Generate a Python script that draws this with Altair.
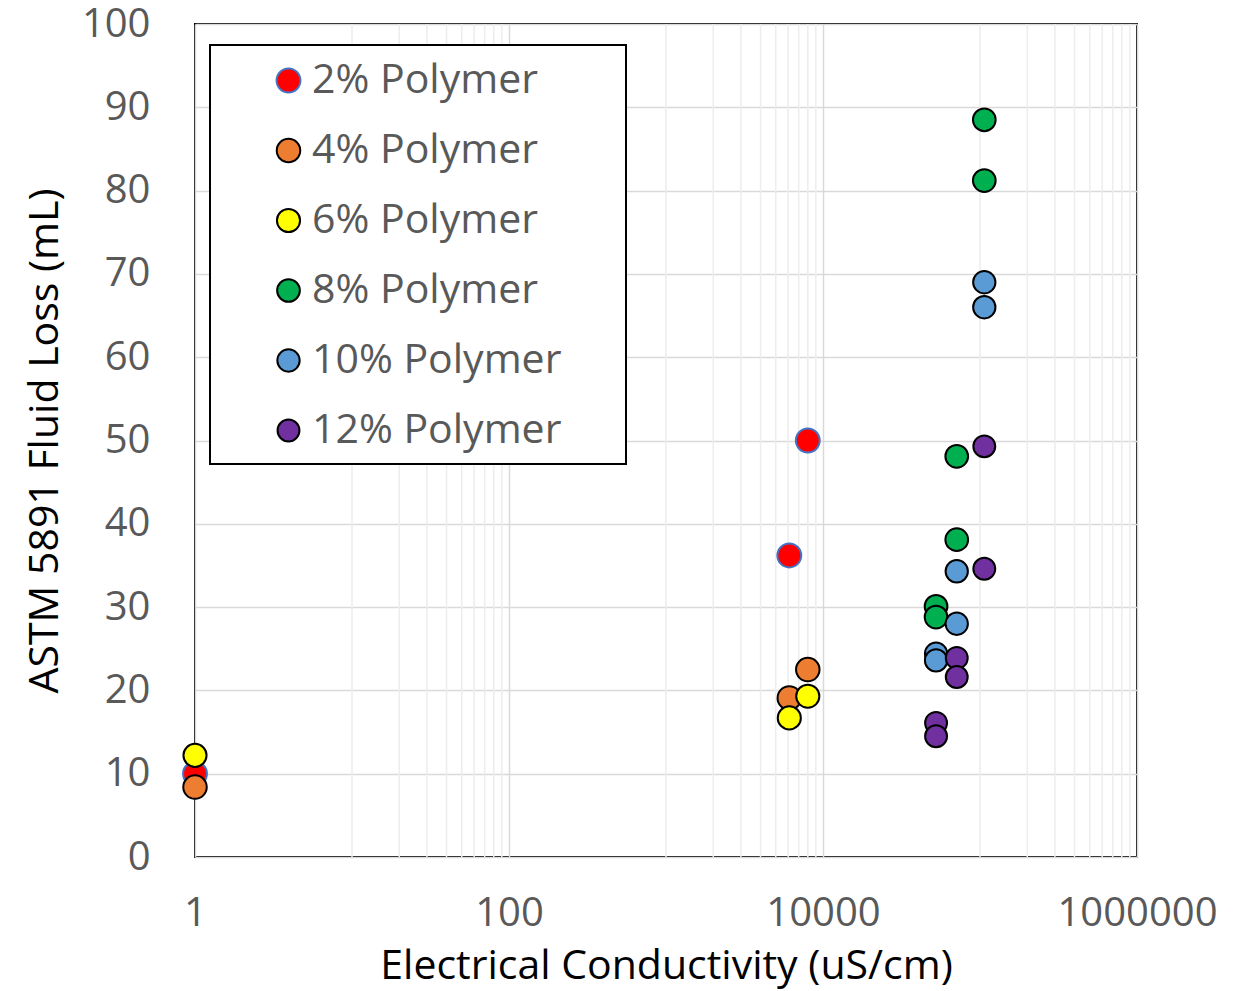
import altair as alt
import pandas as pd

# Series definitions
series_names = ["2% Polymer", "4% Polymer", "6% Polymer", "8% Polymer", "10% Polymer", "12% Polymer"]
fill_colors = ["#FF0000", "#ED7D31", "#FFFF00", "#00B050", "#5B9BD5", "#7030A0"]
edge_colors = ["#4472C4", "#000000", "#000000", "#000000", "#000000", "#000000"]
marker_sizes = [570, 480, 480, 480, 480, 480]

# Electrical conductivity (uS/cm) of the samples
cond_low = [1, 6100, 8000]
cond_high = [52500, 52500, 71100, 71100, 106500, 106500]

# ASTM 5891 fluid loss (mL)
loss_2 = [10.0, 36.2, 50.0]
loss_4 = [8.4, 19.1, 22.5]
loss_6 = [12.2, 16.7, 19.3]
loss_8 = [30.1, 28.8, 48.1, 38.1, 88.5, 81.2]
loss_10 = [24.4, 23.6, 34.3, 28.0, 69.0, 66.0]
loss_12 = [16.1, 14.5, 23.9, 21.6, 49.3, 34.6]

# Axis ticks and gridlines
x_major = [1, 100, 10000, 1000000]
x_minor = [base * k for base in (10, 1000, 100000) for k in range(1, 10)]
y_ticks = list(range(0, 101, 10))

series_x = [cond_low, cond_low, cond_low, cond_high, cond_high, cond_high]
series_y = [loss_2, loss_4, loss_6, loss_8, loss_10, loss_12]

rows = []
for name, xs, ys in zip(series_names, series_x, series_y):
    for xv, yv in zip(xs, ys):
        rows.append({"series": name, "conductivity": xv, "loss": yv, "idx": len(rows)})
df = pd.DataFrame(rows)
minor_df = pd.DataFrame({"conductivity": x_minor})
frame_df = pd.DataFrame({"frame": ["legend"]})

FONT = "Open Sans"
LABEL_SIZE = 40
LEGEND_SIZE = 41
TITLE_SIZE = 41

x_scale = alt.Scale(type="log", domain=[1, 1000000], nice=False)

x_axis = alt.Axis(
    values=x_major,
    format="d",
    title="Electrical Conductivity (uS/cm)",
    grid=True,
    gridColor="#d9d9d9",
    gridWidth=1.5,
    labelFlush=False,
    labelOverlap=False,
    labelPadding=36,
    titleX=471,
    titleY=109,
    titleBaseline="middle",
)

legend = alt.Legend(
    title=None,
    orient="none",
    legendX=15,
    legendY=21,
    padding=15,
    labelFont=FONT,
    labelFontSize=LEGEND_SIZE,
    labelColor="#595959",
    labelLimit=400,
    symbolType="circle",
    symbolStrokeWidth=2,
    symbolOffset=43,
    labelOffset=3,
    rowPadding=28,
)

# Light minor gridlines between the labelled decades
minor_grid = alt.Chart(minor_df).mark_rule(color="#ededed", strokeWidth=1.5).encode(
    x=alt.X("conductivity:Q", scale=x_scale, axis=x_axis)
)

# Framed white panel behind the legend entries
legend_frame = alt.Chart(frame_df).mark_rect(
    fill="white", stroke="black", strokeWidth=2
).encode(
    x=alt.value(15), x2=alt.value(431), y=alt.value(21), y2=alt.value(440)
)

points = alt.Chart(df).mark_point(
    shape="circle", filled=True, opacity=1, fillOpacity=1, strokeWidth=2
).encode(
    x=alt.X("conductivity:Q", scale=x_scale, axis=x_axis),
    y=alt.Y(
        "loss:Q",
        scale=alt.Scale(domain=[0, 100], nice=False),
        axis=alt.Axis(
            values=y_ticks,
            title="ASTM 5891 Fluid Loss (mL)",
            grid=True,
            gridColor="#d9d9d9",
            gridWidth=1.5,
            labelPadding=45,
            titleX=-150,
            titleY=416.5,
            titleAngle=270,
            titleAlign="center",
            titleBaseline="middle",
        ),
    ),
    fill=alt.Fill("series:N", scale=alt.Scale(domain=series_names, range=fill_colors), legend=legend),
    stroke=alt.Stroke("series:N", scale=alt.Scale(domain=series_names, range=edge_colors), legend=legend),
    size=alt.Size("series:N", scale=alt.Scale(domain=series_names, range=marker_sizes), legend=legend),
    order=alt.Order("idx:Q"),
)

chart = (
    alt.layer(minor_grid, legend_frame, points)
    .properties(
        width=942,
        height=833,
        autosize=alt.AutoSizeParams(type="none"),
        padding={"left": 195, "top": 24, "right": 103, "bottom": 134},
        background="white",
    )
    .configure_view(stroke="black", strokeWidth=2)
    .configure_axis(
        domain=False,
        ticks=False,
        tickSize=0,
        labelFont=FONT,
        labelFontSize=LABEL_SIZE,
        labelColor="#595959",
        titleFont=FONT,
        titleFontSize=TITLE_SIZE,
        titleColor="black",
        titleFontWeight="normal",
    )
)

chart.save("out.html", embed_options={"renderer": "svg", "actions": False})
